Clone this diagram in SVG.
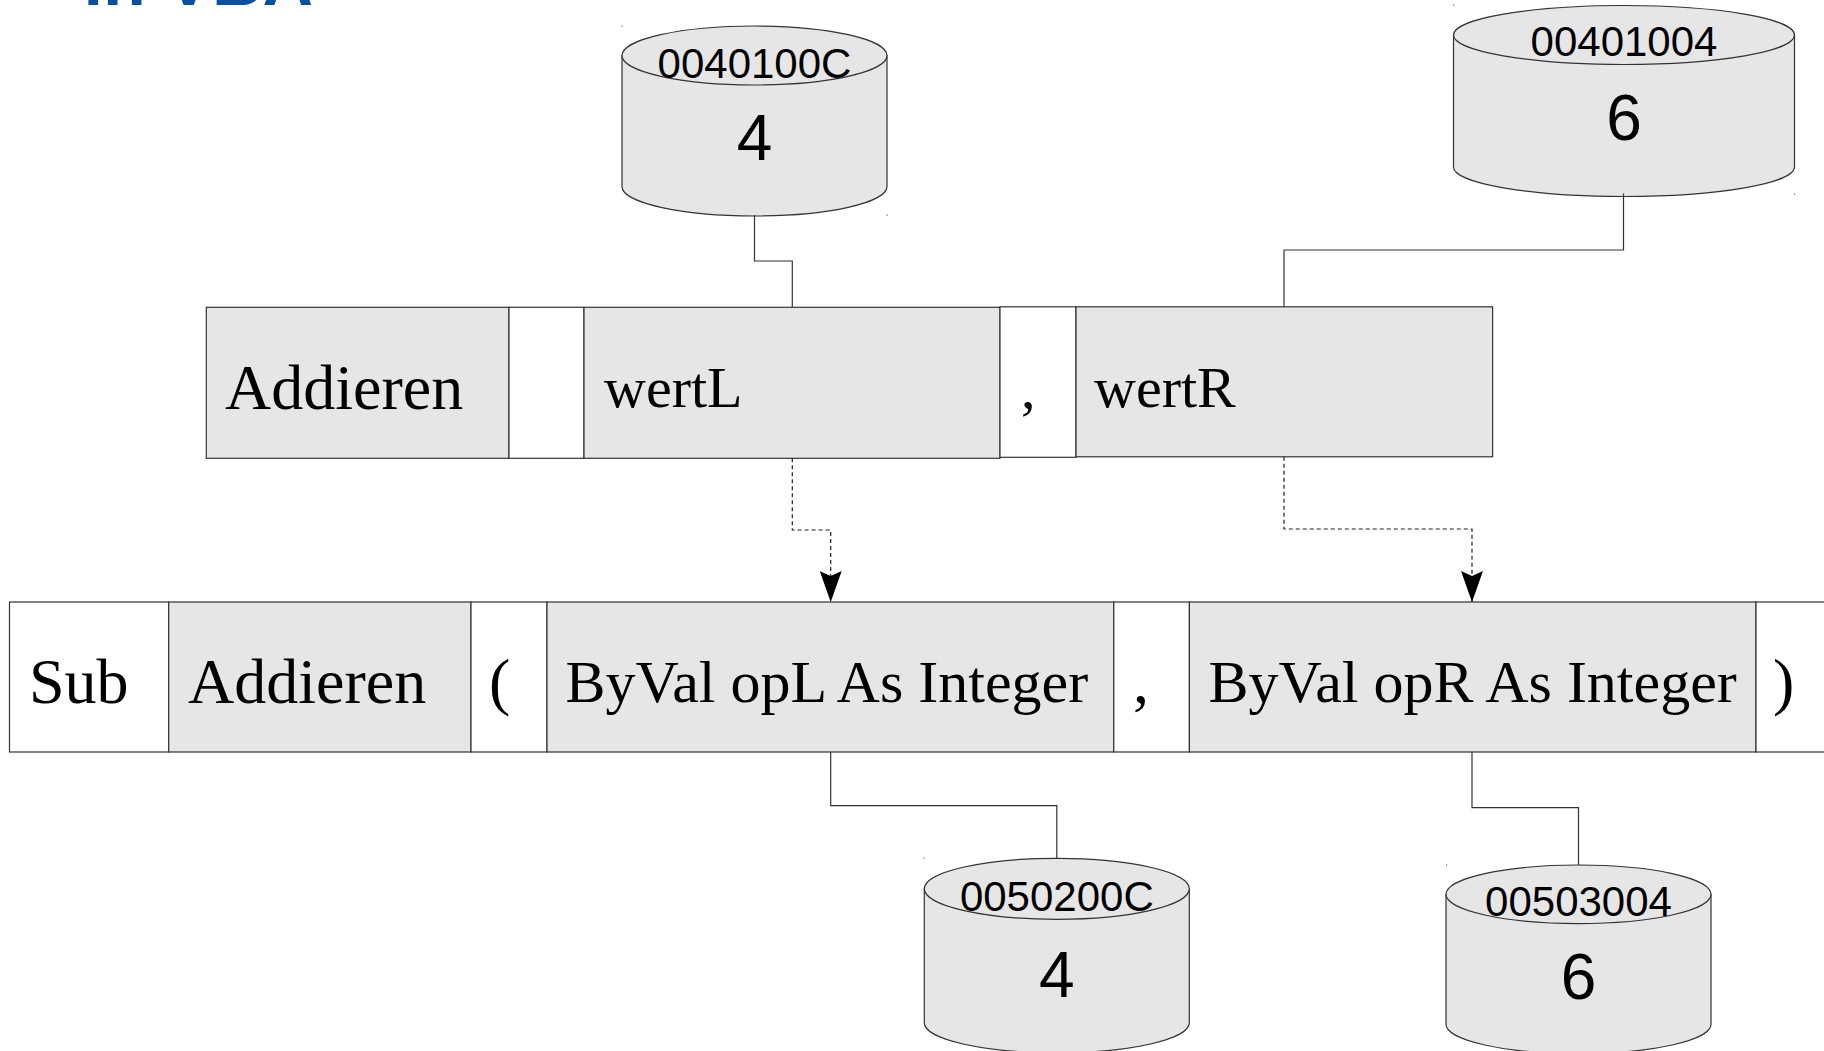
<svg xmlns="http://www.w3.org/2000/svg" width="1824" height="1051" viewBox="0 0 1824 1051">
  <style>
    .cell-grey { fill: #e6e6e6; stroke: #333333; stroke-width: 1.2; }
    .cell-white { fill: #ffffff; stroke: #333333; stroke-width: 1.2; }
    .code { font-family: "Liberation Serif", "Times New Roman", serif; fill: #000000; }
    .big { font-size: 64px; }
    .par { font-size: 58px; }
    .decl { font-size: 60px; }
    .cyl { fill: #e6e6e6; stroke: #333333; stroke-width: 1.2; }
    .addr { font-family: "Liberation Sans", Arial, sans-serif; font-size: 42px; fill: #000000; text-anchor: middle; }
    .val { font-family: "Liberation Sans", Arial, sans-serif; font-size: 64px; fill: #000000; text-anchor: middle; }
    .wire { fill: none; stroke: #333333; stroke-width: 1.2; }
    .pass { fill: none; stroke: #222222; stroke-width: 1.2; stroke-dasharray: 4 3; }
    .corner { fill: #666666; }
    .title { font-family: "Liberation Sans", Arial, sans-serif; font-size: 70px; font-weight: bold; fill: #0b4f9f; text-anchor: end; }
  </style>
  <defs>
    <marker id="arrow" viewBox="0 0 31 22" markerWidth="31" markerHeight="22" refX="31" refY="11" markerUnits="userSpaceOnUse" orient="auto">
      <path d="M0,0 L31,11 L0,22 L5,11 Z" fill="#000000"/>
    </marker>
  </defs>

  <rect x="0" y="0" width="1824" height="1051" fill="#ffffff"/>

  <!-- slide heading (mostly above the visible area) -->
  <text class="title" x="313" y="5">in VBA</text>

  <!-- memory cell of wertL -->
  <g id="mem-wertL">
    <path class="cyl" d="M622,55.5 V186.5 A132.5,29.5 0 0 0 887,186.5 V55.5 Z"/>
    <ellipse class="cyl" cx="754.5" cy="55.5" rx="132.5" ry="29.5"/>
    <text class="addr" x="754.5" y="77.5">0040100C</text>
    <text class="val" x="754.5" y="160">4</text>
    <rect class="corner" x="621.5" y="25.5" width="1.2" height="1.2"/>
    <rect class="corner" x="886.5" y="214.5" width="1.2" height="1.2"/>
  </g>

  <!-- memory cell of wertR -->
  <g id="mem-wertR">
    <path class="cyl" d="M1453.5,35 V167 A170.5,29.5 0 0 0 1794.5,167 V35 Z"/>
    <ellipse class="cyl" cx="1624" cy="35" rx="170.5" ry="29.5"/>
    <text class="addr" x="1624" y="55.5">00401004</text>
    <text class="val" x="1624" y="140">6</text>
    <rect class="corner" x="1453" y="4.5" width="1.2" height="1.2"/>
    <rect class="corner" x="1794" y="193.5" width="1.2" height="1.2"/>
  </g>

  <!-- call: Addieren wertL, wertR -->
  <g id="call">
    <rect class="cell-grey" x="206.3" y="307.3" width="302.7" height="151"/>
    <rect class="cell-white" x="509" y="307.3" width="75" height="151"/>
    <rect class="cell-grey" x="584" y="307.3" width="416" height="151"/>
    <rect class="cell-white" x="1000" y="306.8" width="76" height="150.5"/>
    <rect class="cell-grey" x="1076" y="306.8" width="416.6" height="150"/>
    <text class="code big" x="225" y="409">Addieren</text>
    <text class="code par" x="604" y="407">wertL</text>
    <text class="code par" x="1021" y="408">,</text>
    <text class="code par" x="1094" y="406.5">wertR</text>
  </g>

  <!-- declaration: Sub Addieren(ByVal opL As Integer, ByVal opR As Integer) -->
  <g id="declaration">
    <rect class="cell-white" x="9.5" y="602" width="159.2" height="150"/>
    <rect class="cell-grey" x="168.7" y="602" width="302.3" height="150"/>
    <rect class="cell-white" x="471" y="602" width="76" height="150"/>
    <rect class="cell-grey" x="547" y="602" width="566.8" height="150"/>
    <rect class="cell-white" x="1113.8" y="602" width="75.6" height="150"/>
    <rect class="cell-grey" x="1189.4" y="602" width="566.6" height="150"/>
    <rect class="cell-white" x="1756" y="602" width="80" height="150"/>
    <text class="code big" x="29" y="703">Sub</text>
    <text class="code big" x="188" y="703">Addieren</text>
    <text class="code big" x="489" y="703">(</text>
    <text class="code decl" x="565.5" y="702">ByVal opL As Integer</text>
    <text class="code big" x="1133" y="703">,</text>
    <text class="code decl" x="1208.5" y="702">ByVal opR As Integer</text>
    <text class="code big" x="1773" y="703">)</text>
  </g>

  <!-- memory cell of opL -->
  <g id="mem-opL">
    <path class="cyl" d="M924.3,888.8 V1022.8 A132.5,30 0 0 0 1189.3,1022.8 V888.8 Z"/>
    <ellipse class="cyl" cx="1056.8" cy="888.8" rx="132.5" ry="30.5"/>
    <text class="addr" x="1056.8" y="911">0050200C</text>
    <text class="val" x="1056.8" y="996.5">4</text>
    <rect class="corner" x="923.5" y="857.5" width="1.2" height="1.2"/>
  </g>

  <!-- memory cell of opR -->
  <g id="mem-opR">
    <path class="cyl" d="M1446,894.3 V1024.3 A132.5,29.3 0 0 0 1711,1024.3 V894.3 Z"/>
    <ellipse class="cyl" cx="1578.5" cy="894.3" rx="132.5" ry="29.3"/>
    <text class="addr" x="1578.5" y="916">00503004</text>
    <text class="val" x="1578.5" y="999">6</text>
    <rect class="corner" x="1446" y="864.5" width="1.2" height="1.2"/>
  </g>

  <!-- connectors -->
  <g id="connectors">
    <path class="wire" d="M754.5,215 V261 H792.3 V307.3"/>
    <path class="wire" d="M1623.5,193.5 V250 H1284 V306.8"/>
    <path class="wire" d="M830.7,752 V805.7 H1056.8 V858.3"/>
    <path class="wire" d="M1472,752 V807.7 H1578.5 V865"/>
    <path class="pass" d="M792.3,458.3 V530 H830.7 V602" marker-end="url(#arrow)"/>
    <path class="pass" d="M1284,456.8 V529 H1472 V602" marker-end="url(#arrow)"/>
  </g>
</svg>
